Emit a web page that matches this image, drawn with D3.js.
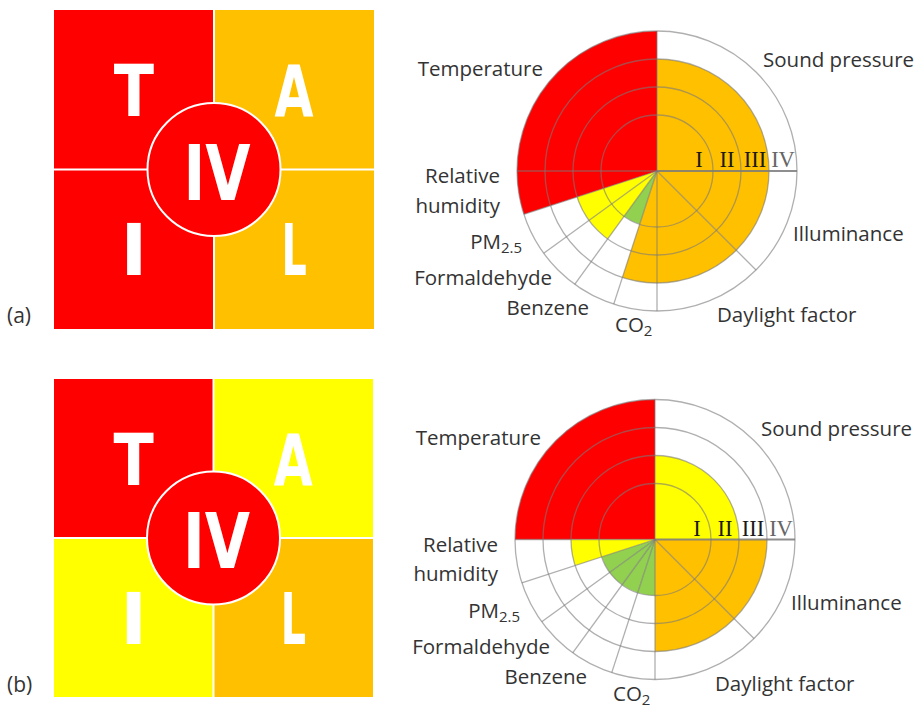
<!DOCTYPE html>
<html>
<head>
<meta charset="utf-8">
<script src="https://cdn.jsdelivr.net/npm/d3@7"></script>
<style>
  html, body { margin: 0; padding: 0; background: #fff; }
  svg { display: block; }
</style>
</head>
<body>
<svg id="fig" width="914" height="707"></svg>
<script>
// ---- data ----
// indicators, clockwise starting at the 9 o'clock position
const indicators = ["Temperature", "Sound pressure", "Illuminance", "Daylight factor",
                    "CO2", "Benzene", "Formaldehyde", "PM2.5", "Relative humidity"];
const sectorDegrees = [90, 90, 45, 45, 18, 18, 18, 18, 18];
// rating per indicator (1 = I ... 4 = IV)
const levelsA = [4, 3, 3, 3, 3, 1, 2, 2, 4];
const levelsB = [4, 2, 3, 3, 1, 1, 1, 1, 2];
const levelNames = ["I", "II", "III", "IV"];
const levelColors = ["#92D050", "#FFFF00", "#FFC000", "#FF0000"];
// TAIL quadrants: Thermal, Acoustic, Indoor air, Lighting
const tailLetters = ["T", "A", "I", "L"];
const tailLevelsA = [4, 3, 4, 3];
const tailLevelsB = [4, 2, 2, 3];
const overallLevels = [4, 4];
const panelTags = ["(a)", "(b)"];

// ---- layout ----
const panels = [
  { sq: { x: 54, y: 10, w: 320, h: 319 }, tagY: 323, cx: 657, cy: 171,
    levels: levelsA, tail: tailLevelsA },
  { sq: { x: 54, y: 379, w: 319, h: 318 }, tagY: 692, cx: 655, cy: 539.5,
    levels: levelsB, tail: tailLevelsB }
];

// label anchors relative to the wheel centre
const labelLayout = {
  "Temperature":       { dx: -114, dy: -95, anchor: "end" },
  "Sound pressure":    { dx: 106,  dy: -104, anchor: "start" },
  "Illuminance":       { dx: 136,  dy: 70,  anchor: "start" },
  "Daylight factor":   { dx: 60,   dy: 151, anchor: "start" },
  "CO2":               { dx: -42,  dy: 161, anchor: "start" },
  "Benzene":           { dx: -68,  dy: 144, anchor: "end" },
  "Formaldehyde":      { dx: -105, dy: 114, anchor: "end" },
  "PM2.5":             { dx: -135, dy: 78,  anchor: "end" },
  "Relative humidity": { dx: -157, dy: 12,  anchor: "end" }
};
// how each label is typeset: lines of [text, isSubscript] runs
const labelParts = {
  "CO2": [[["CO", false], ["2", true]]],
  "PM2.5": [[["PM", false], ["2.5", true]]],
  "Relative humidity": [[["Relative", false]], [["humidity", false]]]
};

// per-letter horizontal squeeze for the block letters
const letterSqueeze = { "T": 0.82, "A": 0.70, "I": 1.0, "L": 0.55 };

const svg = d3.select("#fig");
const R = 140;
const rScale = d3.scaleLinear().domain([0, 4]).range([28, R]);
const color = d3.scaleOrdinal().domain([1, 2, 3, 4]).range(levelColors);
const pie = d3.pie().sort(null).value(d => d)
  .startAngle(-Math.PI / 2).endAngle(1.5 * Math.PI);
const slices = pie(sectorDegrees);

const sansFont = "'Open Sans', 'Noto Sans', sans-serif";
const textColor = "#333";

panels.forEach((p, pi) => {
  // ---------- TAIL square ----------
  const s = p.sq;
  const g = svg.append("g");
  const midX = s.x + s.w / 2, midY = s.y + s.h / 2;
  const quads = [
    { x: s.x, y: s.y, w: s.w / 2, h: s.h / 2 },
    { x: midX, y: s.y, w: s.w / 2, h: s.h / 2 },
    { x: s.x, y: midY, w: s.w / 2, h: s.h / 2 },
    { x: midX, y: midY, w: s.w / 2, h: s.h / 2 }
  ];
  g.selectAll("rect.q").data(quads).join("rect")
    .attr("class", "q")
    .attr("x", d => d.x).attr("y", d => d.y)
    .attr("width", d => d.w).attr("height", d => d.h)
    .attr("fill", (d, i) => color(p.tail[i]));
  // white dividers
  g.append("line").attr("x1", midX).attr("x2", midX).attr("y1", s.y).attr("y2", s.y + s.h)
    .attr("stroke", "#fff").attr("stroke-width", 2);
  g.append("line").attr("x1", s.x).attr("x2", s.x + s.w).attr("y1", midY).attr("y2", midY)
    .attr("stroke", "#fff").attr("stroke-width", 2);

  // block letters
  const capH = 0.729 * 72;
  g.selectAll("text.tail").data(quads).join("text")
    .attr("class", "tail")
    .attr("transform", (d, i) => {
      const x = d.x + d.w / 2, y = d.y + d.h / 2 + capH / 2;
      return `translate(${x},${y}) scale(${letterSqueeze[tailLetters[i]]},1)`;
    })
    .attr("text-anchor", "middle")
    .attr("font-family", "'DejaVu Sans', sans-serif")
    .attr("font-weight", "bold")
    .attr("font-size", 72)
    .attr("fill", "#fff")
    .text((d, i) => tailLetters[i]);

  // overall rating disc
  g.append("circle").attr("cx", midX).attr("cy", midY).attr("r", 66.5)
    .attr("fill", color(overallLevels[pi])).attr("stroke", "#fff").attr("stroke-width", 2);
  g.append("text")
    .attr("transform", `translate(${midX + 3},${midY + 30}) scale(0.76,1)`)
    .attr("text-anchor", "middle")
    .attr("font-family", "'DejaVu Sans', sans-serif")
    .attr("font-weight", "bold")
    .attr("font-size", 77)
    .attr("fill", "#fff")
    .text(levelNames[overallLevels[pi] - 1]);

  // panel tag
  svg.append("text").attr("x", 7).attr("y", p.tagY)
    .attr("font-family", sansFont).attr("font-size", 21).attr("fill", textColor)
    .text(panelTags[pi]);

  // ---------- rating wheel ----------
  const w = svg.append("g").attr("transform", `translate(${p.cx},${p.cy})`);
  const arc = d3.arc().innerRadius(0);
  w.selectAll("path.sector").data(slices).join("path")
    .attr("class", "sector")
    .attr("d", (d, i) => arc.outerRadius(rScale(p.levels[i]))(d))
    .attr("fill", (d, i) => color(p.levels[i]));

  // rings
  w.selectAll("circle.ring").data([1, 2, 3, 4]).join("circle")
    .attr("class", "ring")
    .attr("r", d => rScale(d))
    .attr("fill", "none")
    .attr("stroke", "#7a7a7a").attr("stroke-opacity", 0.6).attr("stroke-width", 1.3);

  // radial separators
  w.selectAll("line.spoke").data(slices).join("line")
    .attr("class", "spoke")
    .attr("x1", 0).attr("y1", 0)
    .attr("x2", d => d3.pointRadial(d.startAngle, R)[0])
    .attr("y2", d => d3.pointRadial(d.startAngle, R)[1])
    .attr("stroke", "#7a7a7a")
    .attr("stroke-opacity", d => Math.abs(d.startAngle - Math.PI / 2) < 1e-6 ? 0.85 : 0.6)
    .attr("stroke-width", d => Math.abs(d.startAngle - Math.PI / 2) < 1e-6 ? 2 : 1.3);

  // level numerals along the 3 o'clock spoke
  w.selectAll("text.lvl").data(levelNames).join("text")
    .attr("class", "lvl")
    .attr("x", (d, i) => rScale(i + 0.5))
    .attr("y", -4)
    .attr("text-anchor", "middle")
    .attr("font-family", "'Liberation Serif', 'DejaVu Serif', serif")
    .attr("font-size", 22.5)
    .attr("fill", (d, i) => i === 3 ? "#666" : "#1a1a1a")
    .text(d => d);

  // indicator labels
  indicators.forEach(name => {
    const L = labelLayout[name];
    const lines = labelParts[name] || [[[name, false]]];
    lines.forEach((runs, li) => {
      const t = w.append("text")
        .attr("x", L.dx).attr("y", L.dy + li * 29.5)
        .attr("text-anchor", L.anchor)
        .attr("font-family", sansFont)
        .attr("font-size", 20.5)
        .attr("fill", textColor);
      runs.forEach(([txt, sub]) => {
        const ts = t.append("tspan").text(txt);
        if (sub) ts.attr("font-size", 15).attr("dy", 4);
      });
    });
  });
});
</script>
</body>
</html>
